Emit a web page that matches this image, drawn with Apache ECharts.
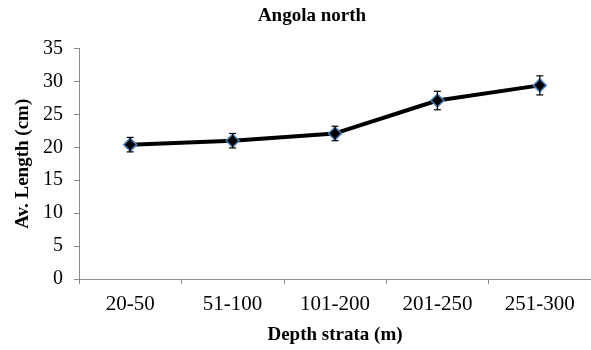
<!DOCTYPE html>
<html>
<head>
<meta charset="utf-8">
<script src="https://cdn.jsdelivr.net/npm/echarts@6/dist/echarts.min.js"></script>
<style>
  html, body { margin: 0; padding: 0; background: #fff; }
  #chart { width: 591px; height: 350px; }
</style>
</head>
<body>
<div id="chart"></div>
<script>
const categories = ['20-50', '51-100', '101-200', '201-250', '251-300'];
const avLength = [20.4, 21.0, 22.1, 27.1, 29.4];
const errors = [1.1, 1.1, 1.1, 1.4, 1.45];
const yTicks = [0, 5, 10, 15, 20, 25, 30, 35];

const chart = echarts.init(document.getElementById('chart'));
const font = '"Liberation Serif", "Times New Roman", serif';

const errData = categories.map((c, i) => [i, avLength[i] - errors[i], avLength[i] + errors[i]]);

const option = {
  animation: false,
  title: {
    text: 'Angola north',
    left: 307,
    textAlign: 'center',
    top: 2,
    textStyle: { fontFamily: font, fontSize: 19, fontWeight: 'bold', color: '#000' }
  },
  // the original chart is cropped on the right, so the plot runs past the edge
  grid: { left: 79, right: -13, top: 48.5, bottom: 67.7 },
  xAxis: {
    type: 'category',
    data: categories,
    boundaryGap: true,
    name: 'Depth strata (m)',
    nameLocation: 'middle',
    nameGap: 47,
    nameTextStyle: { fontFamily: font, fontSize: 19, fontWeight: 'bold', color: '#000' },
    axisLine: { lineStyle: { color: '#8c8c8c', width: 1 } },
    axisTick: { show: true, length: 5, lineStyle: { color: '#8c8c8c' } },
    axisLabel: { fontFamily: font, fontSize: 21, color: '#000', margin: 15 },
    splitLine: { show: false }
  },
  yAxis: {
    type: 'value',
    min: yTicks[0],
    max: yTicks[yTicks.length - 1],
    interval: 5,
    name: 'Av. Length (cm)',
    nameLocation: 'middle',
    nameGap: 42,
    nameTextStyle: { fontFamily: font, fontSize: 19, fontWeight: 'bold', color: '#000' },
    axisLine: { show: true, lineStyle: { color: '#8c8c8c', width: 1 } },
    axisTick: { show: true, length: 5, lineStyle: { color: '#8c8c8c' } },
    axisLabel: { fontFamily: font, fontSize: 20, color: '#000', margin: 16 },
    splitLine: { show: false }
  },
  series: [
    {
      type: 'line',
      data: avLength,
      lineStyle: { color: '#000', width: 4 },
      symbol: 'diamond',
      symbolSize: 13,
      itemStyle: { color: '#000', borderColor: '#4a7ebb', borderWidth: 1.5 },
      z: 2
    },
    {
      type: 'custom',
      data: errData,
      z: 3,
      renderItem: function (params, api) {
        const x = api.coord([api.value(0), 0])[0];
        const lo = api.coord([api.value(0), api.value(1)])[1];
        const hi = api.coord([api.value(0), api.value(2)])[1];
        const w = 3.5;
        const style = { stroke: '#000', lineWidth: 1.2 };
        return {
          type: 'group',
          children: [
            { type: 'line', shape: { x1: x, y1: lo, x2: x, y2: hi }, style: style },
            { type: 'line', shape: { x1: x - w, y1: lo, x2: x + w, y2: lo }, style: style },
            { type: 'line', shape: { x1: x - w, y1: hi, x2: x + w, y2: hi }, style: style }
          ]
        };
      }
    }
  ]
};

chart.setOption(option);
</script>
</body>
</html>
